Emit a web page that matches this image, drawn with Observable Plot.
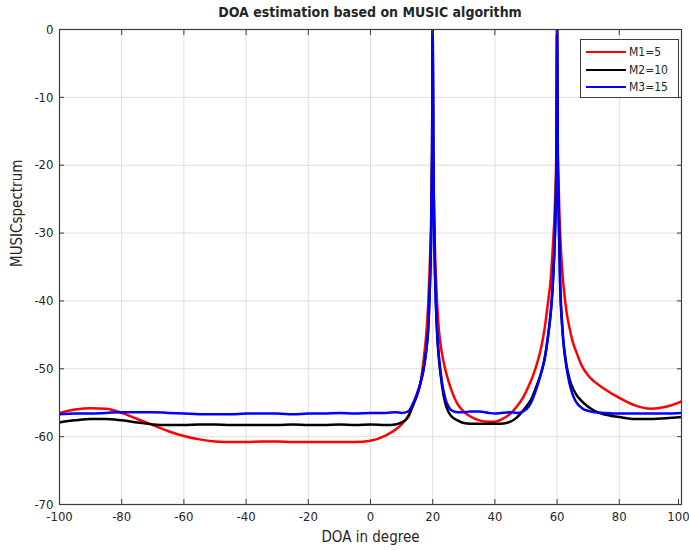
<!DOCTYPE html>
<html>
<head>
<meta charset="utf-8">
<script src="https://cdn.jsdelivr.net/npm/d3@7"></script>
<script src="https://cdn.jsdelivr.net/npm/@observablehq/plot@0.6"></script>
<style>
  html, body { margin: 0; padding: 0; background: #fff; }
  body { width: 689px; height: 550px; position: relative; overflow: hidden;
         font-family: "Liberation Sans Narrow", "Arial Narrow", "DejaVu Sans Condensed", "Liberation Sans", sans-serif; }
  #title { height: 22px; line-height: 24px; padding-left: 59px; width: 622px; text-align: center;
           font-size: 14px; font-weight: bold; color: #262626; }
  #legend { position: absolute; left: 580px; top: 39px; width: 97px; height: 57px;
            border: 1px solid #3c3c3c; background: #fff; }
  .row { position: absolute; left: 5px; height: 14px; display: flex; align-items: center;
         font-size: 12px; color: #262626; }
  .row span.sw { display: inline-block; width: 40px; height: 0; border-top: 2px solid; margin-right: 3px; }
</style>
</head>
<body>
<div id="title">DOA estimation based on MUSIC algorithm</div>
<div id="chart"></div>
<div id="legend"></div>
<script>
// ---- data ----
const seriesNames = ["M1=5", "M2=10", "M3=15"];
const seriesColors = ["#ff0000", "#000000", "#0000ff"];

const doa = [-100,-95,-90,-85,-80,-75,-70,-65,-60,-55,-50,-45,-40,-35,-30,-25,-20,-15,-10,-5,
  0,5,8,10,12,14,15,16,17,18,18.5,19,19.5,19.8,20,20.2,20.5,21,21.5,22,23,24,25,26,28,30,32,35,38,40,42,45,47,49,51,52,53,54,55,56,57,58,58.5,59,59.5,59.8,60,60.2,60.5,61,61.5,62,63,64,65,66,68,70,72,75,80,85,90,95,100];

const m1 = [-56.5,-56.0,-55.8,-55.9,-56.5,-57.4,-58.3,-59.2,-59.9,-60.4,-60.7,-60.8,-60.8,-60.7,-60.7,-60.8,-60.8,-60.8,-60.8,-60.8,
  -60.6,-59.8,-59.0,-58.2,-57.0,-55.0,-53.9,-52.2,-49.0,-44.5,-41.0,-35.5,-28.0,-19.0,0,-19.0,-28.0,-36.0,-41.0,-44.3,-47.8,-50.0,-51.7,-53.1,-55.2,-56.3,-57.0,-57.6,-57.8,-57.8,-57.5,-56.6,-55.6,-54.3,-52.4,-51.3,-50.0,-48.5,-46.6,-44.0,-40.5,-36.5,-33.0,-29.0,-23.0,-16.0,0,-16.0,-23.0,-30.0,-34.5,-37.5,-41.5,-44.0,-46.0,-47.3,-49.6,-51.0,-51.9,-52.9,-54.3,-55.4,-55.9,-55.6,-54.8];

const m2 = [-57.9,-57.6,-57.4,-57.4,-57.6,-57.9,-58.2,-58.3,-58.3,-58.2,-58.2,-58.3,-58.3,-58.3,-58.3,-58.2,-58.3,-58.3,-58.2,-58.3,
  -58.2,-58.3,-58.2,-57.9,-57.2,-55.0,-53.8,-52.2,-50.3,-47.0,-44.5,-39.0,-30.0,-18.0,0,-18.0,-30.0,-40.0,-45.5,-48.5,-52.5,-55.0,-56.3,-57.0,-57.6,-58.0,-58.1,-58.1,-58.1,-58.1,-58.1,-57.8,-57.2,-56.2,-55.0,-54.2,-53.0,-51.8,-50.4,-48.6,-45.5,-41.5,-38.5,-34.0,-27.0,-19.0,0,-18.0,-27.0,-37.5,-42.5,-45.8,-49.4,-51.5,-52.8,-53.7,-54.8,-55.6,-56.2,-56.7,-57.1,-57.4,-57.4,-57.3,-57.1];

const m3 = [-56.7,-56.6,-56.6,-56.5,-56.4,-56.4,-56.4,-56.5,-56.6,-56.7,-56.7,-56.7,-56.6,-56.6,-56.6,-56.7,-56.6,-56.6,-56.5,-56.6,
  -56.5,-56.5,-56.4,-56.5,-56.3,-54.8,-53.6,-52.2,-50.2,-47.0,-44.5,-39.0,-30.0,-18.0,0,-18.0,-30.0,-40.0,-45.0,-48.2,-52.0,-54.3,-55.5,-56.1,-56.4,-56.4,-56.3,-56.3,-56.5,-56.6,-56.5,-56.4,-56.5,-56.3,-55.5,-54.6,-53.4,-52.0,-50.4,-48.4,-45.5,-41.5,-38.5,-34.0,-27.0,-18.0,0,-18.0,-27.0,-38.5,-43.0,-46.0,-49.8,-52.2,-53.8,-54.8,-55.8,-56.2,-56.4,-56.5,-56.6,-56.6,-56.6,-56.6,-56.5];

const xTicks = [-100,-80,-60,-40,-20,0,20,40,60,80,100];
const yTicks = [0,-10,-20,-30,-40,-50,-60,-70];
const xLabel = "DOA in degree";
const yLabel = "MUSICspectrum";

// ---- build table ----
const seriesValues = [m1, m2, m3];
const rows = [];
seriesNames.forEach((name, s) => {
  doa.forEach((d, i) => rows.push({doa: d, value: seriesValues[s][i], series: name}));
});

const font = '"Liberation Sans Narrow", "Arial Narrow", "DejaVu Sans Condensed", "Liberation Sans", sans-serif';
const innerTicks = xTicks.slice(0, -1);
const lastTick = xTicks.slice(-1);

const chart = Plot.plot({
  width: 689,
  height: 528,
  marginLeft: 59,
  marginRight: 8,
  marginTop: 7,
  marginBottom: 46,
  style: {fontFamily: font, fontSize: "13px", color: "#262626", background: "#fff"},
  x: {domain: [-100, 100]},
  y: {domain: [-70, 0]},
  color: {domain: seriesNames, range: seriesColors},
  marks: [
    Plot.gridX(xTicks, {stroke: "#dedede", strokeOpacity: 1}),
    Plot.gridY(yTicks, {stroke: "#dedede", strokeOpacity: 1}),
    Plot.lineY(rows, {x: "doa", y: "value", z: "series", stroke: "series", strokeWidth: 2.5, curve: "monotone-x", clip: true}),
    Plot.frame({stroke: "#3c3c3c", strokeWidth: 1.2}),
    Plot.axisX(innerTicks, {tickSize: -5, tickPadding: 12, tickFormat: d => String(d), label: null, stroke: "#3c3c3c"}),
    Plot.axisX(lastTick, {tickSize: -5, tickPadding: 12, tickFormat: d => String(d), label: null, stroke: "#3c3c3c", dx: -3}),
    Plot.axisX(xTicks, {anchor: "top", tickSize: -5, tickFormat: () => "", label: null, stroke: "#3c3c3c"}),
    Plot.axisY(yTicks, {tickSize: -5, tickPadding: 11, tickFormat: d => String(d), label: null, stroke: "#3c3c3c"}),
    Plot.axisY(yTicks, {anchor: "right", tickSize: -5, tickFormat: () => "", label: null, stroke: "#3c3c3c"}),
    Plot.text([xLabel], {frameAnchor: "bottom", dy: 33, text: d => d, fontSize: 15, lineAnchor: "middle"}),
    Plot.text([yLabel], {frameAnchor: "left", dx: -42, rotate: -90, text: d => d, fontSize: 15})
  ]
});
document.getElementById("chart").appendChild(chart);

// legend
const legend = document.getElementById("legend");
seriesNames.forEach((name, i) => {
  const row = document.createElement("div");
  row.className = "row";
  row.style.top = (5 + i * 17.5) + "px";
  const sw = document.createElement("span");
  sw.className = "sw";
  sw.style.borderTopColor = seriesColors[i];
  row.appendChild(sw);
  row.appendChild(document.createTextNode(name));
  legend.appendChild(row);
});
</script>
</body>
</html>
